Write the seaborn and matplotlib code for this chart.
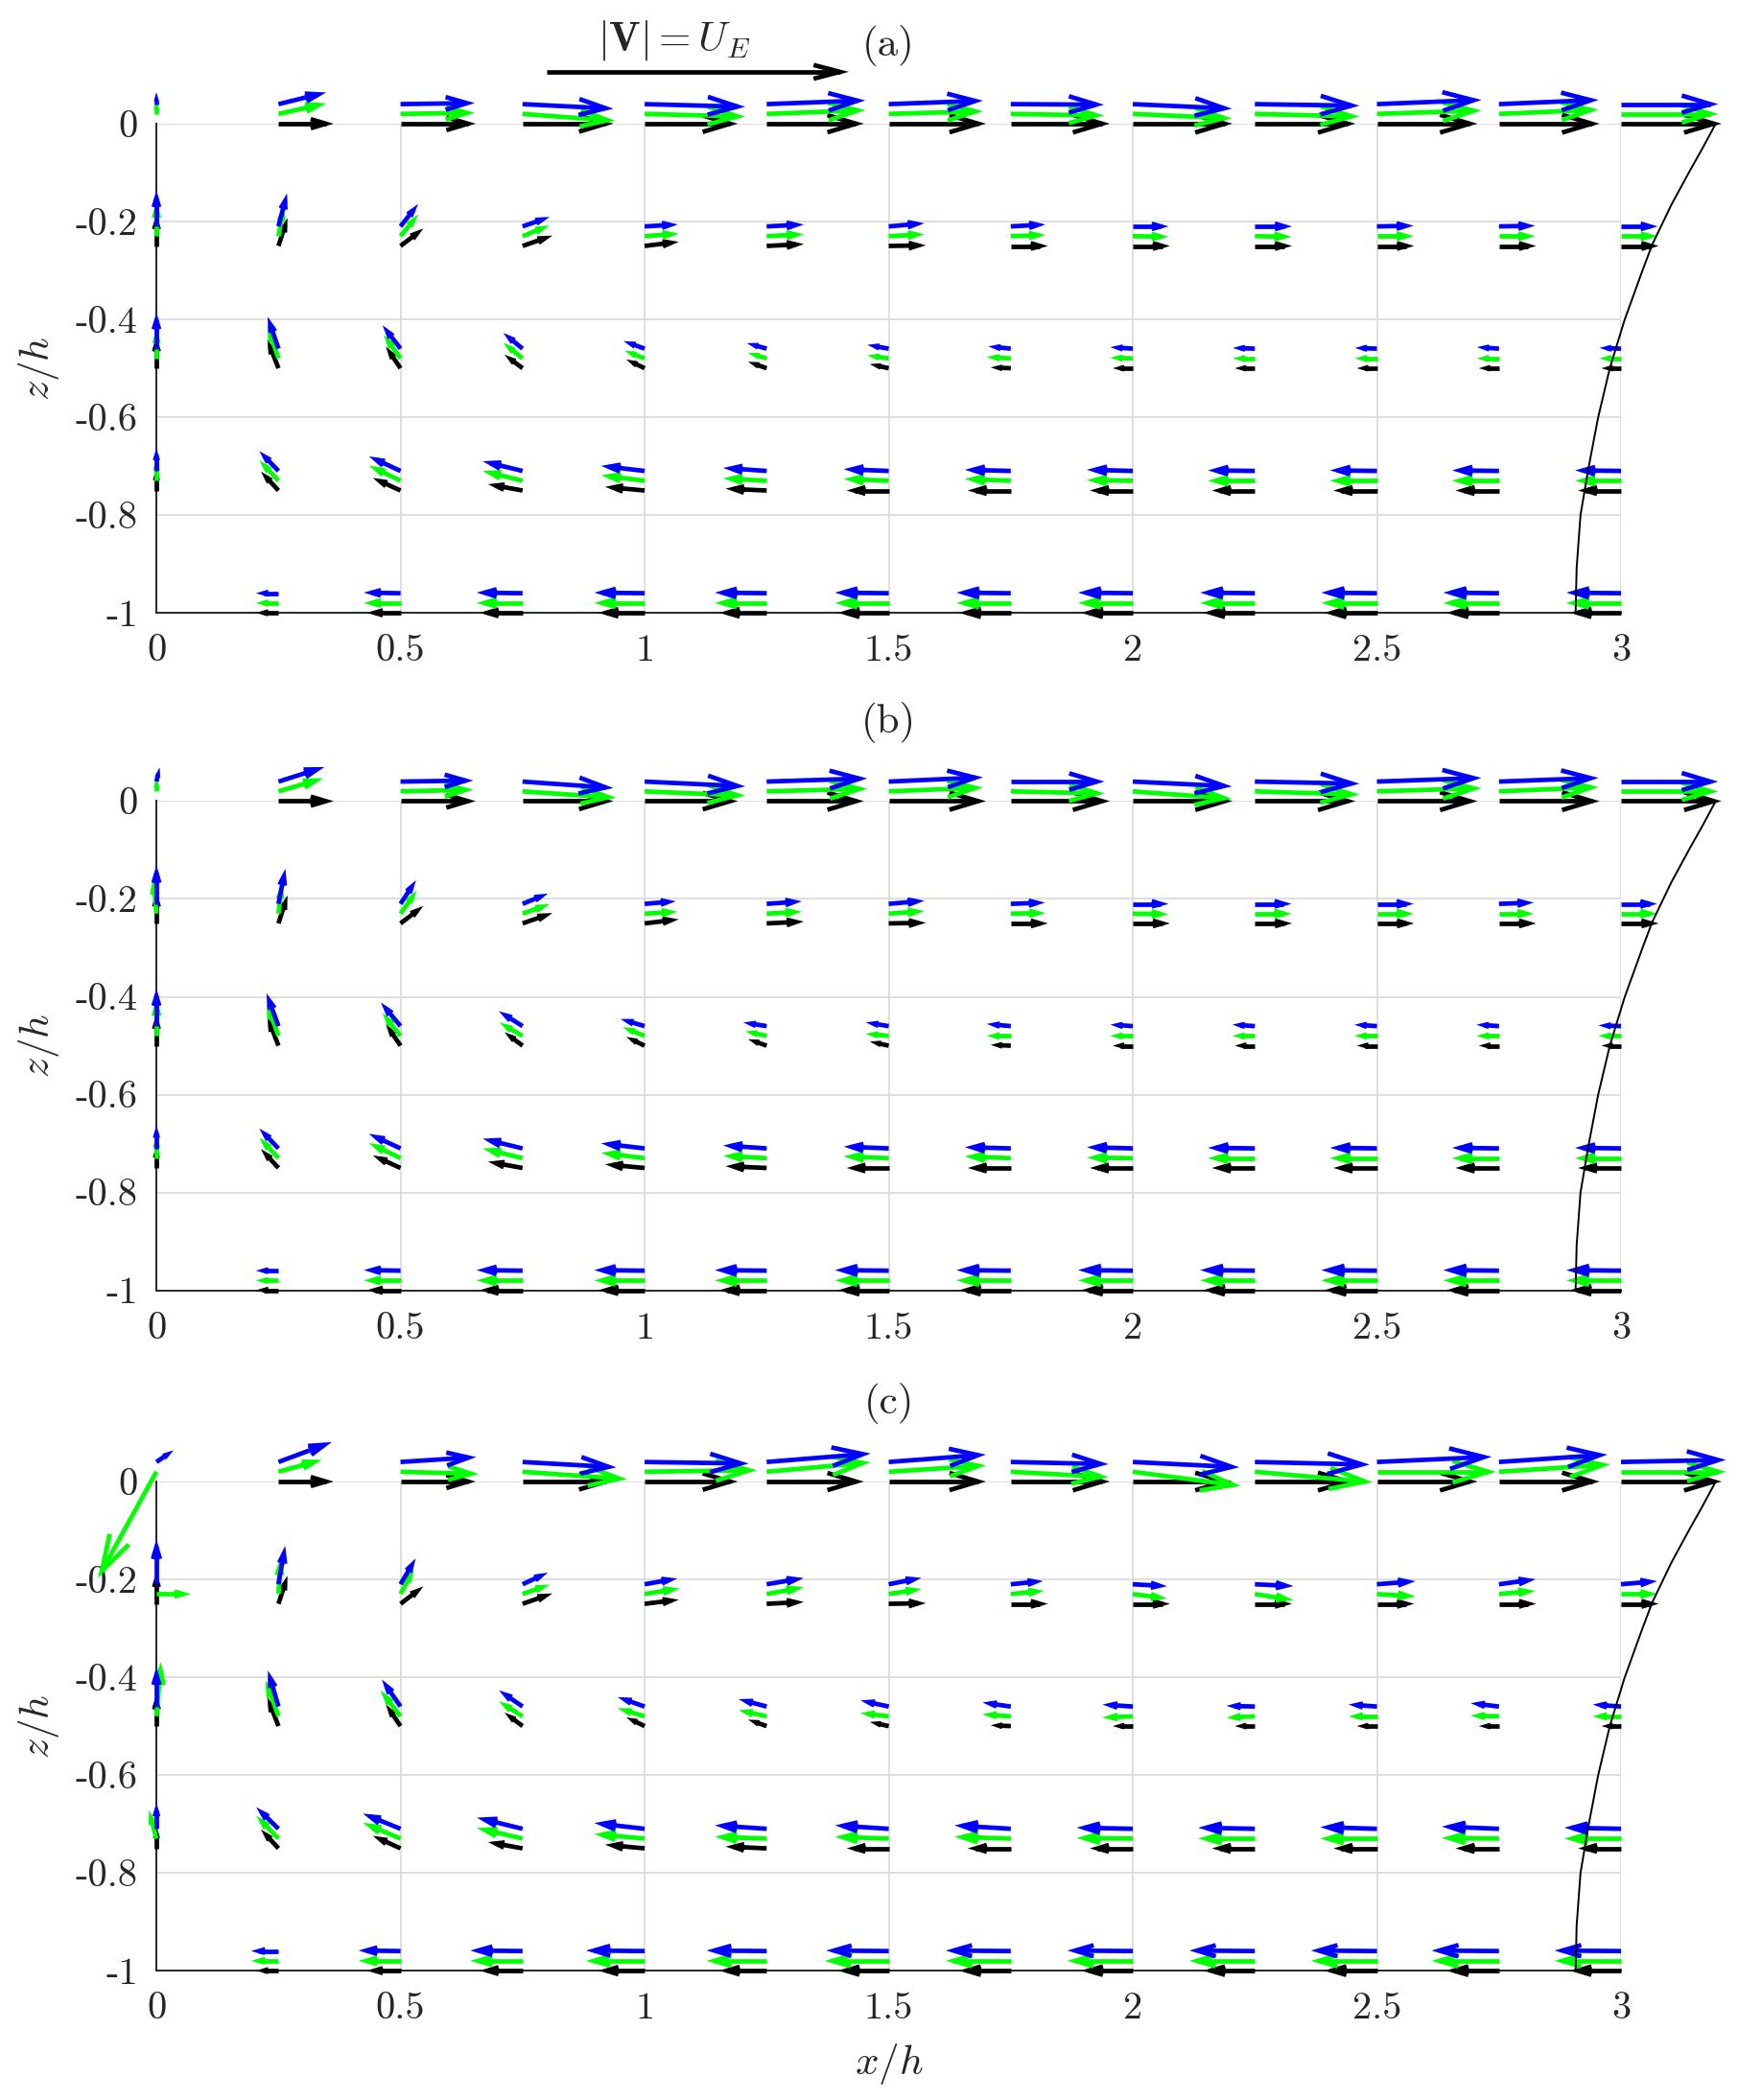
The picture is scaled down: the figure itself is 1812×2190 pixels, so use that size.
import numpy as np
import matplotlib
matplotlib.use("Agg")
import matplotlib.pyplot as plt
from matplotlib.collections import LineCollection
import seaborn as sns

# grid of arrow origins
X_POS = [0, 0.25, 0.5, 0.75, 1.0, 1.25, 1.5, 1.75, 2.0, 2.25, 2.5, 2.75, 3.0]
Z_LEVELS = [0, -0.25, -0.5, -0.75, -1.0]
GREEN_SHIFT = 0.02
BLUE_SHIFT = 0.04

X_TICKS = [0, 0.5, 1, 1.5, 2, 2.5, 3]
X_TICK_LABELS = ["0", "0.5", "1", "1.5", "2", "2.5", "3"]
Y_TICKS = [0, -0.2, -0.4, -0.6, -0.8, -1]
Y_TICK_LABELS = ["0", "-0.2", "-0.4", "-0.6", "-0.8", "-1"]

# arrow components as drawn, in h units (|V| = U_E is 0.6 long)
U_BLACK = [
    [0, 0.097, 0.138, 0.170, 0.175, 0.183, 0.183, 0.187, 0.188, 0.190, 0.190, 0.190, 0.190],
    [0, 0.0135, 0.034, 0.046, 0.054, 0.060, 0.060, 0.060, 0.060, 0.060, 0.060, 0.060, 0.061],
    [0, -0.017, -0.021, -0.024, -0.023, -0.023, -0.023, -0.025, -0.025, -0.025, -0.025, -0.025, -0.024],
    [0, -0.025, -0.042, -0.055, -0.065, -0.068, -0.070, -0.072, -0.072, -0.072, -0.073, -0.073, -0.072],
    [0, -0.030, -0.053, -0.072, -0.079, -0.081, -0.088, -0.090, -0.090, -0.090, -0.092, -0.092, -0.089],
]
W_BLACK = [
    [0, 0, 0, 0, 0, 0, 0, 0, 0, 0, 0, 0, 0],
    [0.050, 0.042, 0.026, 0.016, 0.0065, 0.003, 0.001, 0, 0, 0, 0, 0, 0],
    [0.050, 0.044, 0.031, 0.018, 0.011, 0.008, 0.005, 0.001, 0, 0, 0, 0, 0],
    [0.030, 0.027, 0.019, 0.010, 0.006, 0.003, 0, 0, 0, 0, 0, 0, 0],
    [0, 0, 0, 0, 0, 0, 0, 0, 0, 0, 0, 0, 0],
]

# panel (a)
U_GREEN_A = [
    [0, 0.082, 0.136, 0.174, 0.190, 0.186, 0.177, 0.175, 0.187, 0.198, 0.198, 0.188, 0.183],
    [0, 0.008, 0.026, 0.040, 0.054, 0.060, 0.057, 0.055, 0.057, 0.059, 0.059, 0.058, 0.059],
    [0, -0.017, -0.025, -0.027, -0.026, -0.023, -0.028, -0.033, -0.030, -0.029, -0.029, -0.029, -0.028],
    [0, -0.028, -0.050, -0.066, -0.073, -0.073, -0.076, -0.078, -0.078, -0.080, -0.080, -0.080, -0.078],
    [0, -0.030, -0.059, -0.078, -0.087, -0.090, -0.094, -0.095, -0.096, -0.096, -0.098, -0.098, -0.096],
]
W_GREEN_A = [
    [0.012, 0.018, 0.002, -0.013, -0.005, 0.007, 0.005, -0.003, -0.0085, -0.005, 0.0065, 0.008, 0],
    [0.055, 0.046, 0.032, 0.016, 0.004, 0.003, 0.003, 0.002, -0.001, -0.001, 0, 0, 0],
    [0.045, 0.050, 0.035, 0.022, 0.010, 0.007, 0.004, 0.002, 0.001, 0, 0, 0, 0],
    [0.030, 0.030, 0.024, 0.016, 0.009, 0.004, 0.003, 0.003, 0.001, 0, 0, 0, 0],
    [0, 0, 0, 0, 0, 0, 0, 0, 0, 0, 0, 0, 0],
]
U_BLUE_A = [
    [0, 0.082, 0.136, 0.170, 0.190, 0.186, 0.177, 0.175, 0.187, 0.198, 0.198, 0.188, 0.183],
    [0, 0.0135, 0.026, 0.040, 0.052, 0.060, 0.057, 0.055, 0.057, 0.060, 0.059, 0.058, 0.059],
    [0, -0.017, -0.027, -0.027, -0.028, -0.025, -0.028, -0.030, -0.030, -0.029, -0.029, -0.029, -0.028],
    [0, -0.028, -0.050, -0.066, -0.073, -0.073, -0.076, -0.078, -0.078, -0.080, -0.080, -0.080, -0.078],
    [0, -0.030, -0.059, -0.078, -0.087, -0.090, -0.094, -0.095, -0.096, -0.096, -0.098, -0.098, -0.096],
]
W_BLUE_A = [
    [0.008, 0.020, 0.002, -0.0085, -0.005, 0.007, 0.0065, -0.001, -0.0085, -0.003, 0.008, 0.008, 0],
    [0.058, 0.052, 0.033, 0.014, 0.003, 0.003, 0.005, 0.003, 0, 0, 0.001, 0.001, 0],
    [0.058, 0.050, 0.035, 0.022, 0.010, 0.007, 0.005, 0.003, 0.002, 0.001, 0.001, 0.002, 0.001],
    [0.031, 0.029, 0.023, 0.016, 0.0085, 0.005, 0.003, 0.002, 0.002, 0.001, 0.001, 0.001, 0.001],
    [0, 0, 0.001, 0.001, 0.001, 0.001, 0.001, 0.001, 0.001, 0.001, 0.001, 0.001, 0.001],
]

# panel (b): lower two rows match panel (a)
U_GREEN_B = [
    [0, 0.076, 0.133, 0.176, 0.190, 0.190, 0.177, 0.176, 0.187, 0.198, 0.198, 0.188, 0.183],
    [-0.005, 0.005, 0.024, 0.040, 0.051, 0.056, 0.057, 0.055, 0.057, 0.059, 0.059, 0.055, 0.058],
    [0, -0.019, -0.027, -0.033, -0.030, -0.028, -0.031, -0.033, -0.030, -0.030, -0.030, -0.030, -0.030],
    U_GREEN_A[3],
    U_GREEN_A[4],
]
W_GREEN_B = [
    [0.012, 0.022, 0.003, -0.012, -0.008, 0.005, 0.007, -0.004, -0.014, -0.006, 0.006, 0.008, 0],
    [0.058, 0.045, 0.034, 0.014, 0.003, 0.003, 0.004, 0.001, -0.001, 0, 0, 0, 0],
    [0.060, 0.052, 0.034, 0.019, 0.012, 0.006, 0.003, 0, 0, 0, 0, 0, 0],
    W_GREEN_A[3],
    W_GREEN_A[4],
]
U_BLUE_B = [
    [0.003, 0.079, 0.133, 0.170, 0.190, 0.190, 0.177, 0.176, 0.187, 0.198, 0.198, 0.188, 0.183],
    [0, 0.011, 0.023, 0.037, 0.048, 0.056, 0.057, 0.054, 0.057, 0.059, 0.059, 0.055, 0.058],
    [0, -0.019, -0.030, -0.035, -0.034, -0.032, -0.031, -0.033, -0.030, -0.030, -0.030, -0.030, -0.030],
    U_BLUE_A[3],
    U_BLUE_A[4],
]
W_BLUE_B = [
    [0.013, 0.025, 0.002, -0.012, -0.009, 0.006, 0.008, 0, -0.009, -0.004, 0.007, 0.007, 0],
    [0.063, 0.056, 0.035, 0.015, 0.004, 0.004, 0.005, 0.002, 0, 0, 0, 0.002, 0],
    [0.061, 0.052, 0.036, 0.022, 0.010, 0.005, 0.005, 0.003, 0.002, 0.002, 0.002, 0.002, 0.001],
    W_BLUE_A[3],
    W_BLUE_A[4],
]

# panel (c)
U_GREEN_C = [
    [-0.112, 0.073, 0.144, 0.198, 0.214, 0.197, 0.183, 0.184, 0.205, 0.225, 0.228, 0.212, 0.199],
    [0.054, 0.003, 0.020, 0.040, 0.056, 0.060, 0.051, 0.052, 0.054, 0.063, 0.063, 0.058, 0.058],
    [0.008, -0.021, -0.031, -0.035, -0.040, -0.042, -0.042, -0.042, -0.046, -0.042, -0.042, -0.042, -0.042],
    [-0.011, -0.034, -0.062, -0.078, -0.087, -0.090, -0.094, -0.099, -0.099, -0.100, -0.100, -0.101, -0.100],
    [0, -0.040, -0.070, -0.091, -0.104, -0.107, -0.115, -0.117, -0.118, -0.118, -0.119, -0.122, -0.120],
]
W_GREEN_C = [
    [-0.203, 0.020, -0.004, -0.014, 0.003, 0.018, 0.012, -0.010, -0.027, -0.020, 0, 0.014, 0],
    [0, 0.057, 0.037, 0.014, 0.009, 0.011, 0.008, 0.005, -0.007, -0.010, -0.004, 0.005, 0],
    [0.095, 0.058, 0.040, 0.022, 0.012, 0.009, 0.005, 0.003, -0.002, -0.002, 0, 0.001, 0],
    [0.042, 0.035, 0.026, 0.018, 0.008, 0.003, 0.003, 0.003, 0.001, 0, 0, 0.001, 0],
    [0, 0, 0, 0, 0, 0, 0, 0, 0, 0, 0, 0, 0],
]
U_BLUE_C = [
    [0.022, 0.094, 0.139, 0.176, 0.197, 0.197, 0.183, 0.184, 0.202, 0.219, 0.219, 0.206, 0.199],
    [0, 0.011, 0.023, 0.037, 0.051, 0.060, 0.051, 0.050, 0.054, 0.063, 0.063, 0.059, 0.058],
    [0, -0.017, -0.029, -0.035, -0.040, -0.042, -0.042, -0.042, -0.046, -0.042, -0.042, -0.042, -0.042],
    [0, -0.034, -0.062, -0.078, -0.087, -0.090, -0.094, -0.099, -0.099, -0.100, -0.100, -0.101, -0.100],
    [0, -0.040, -0.070, -0.091, -0.104, -0.107, -0.112, -0.117, -0.118, -0.118, -0.119, -0.122, -0.120],
]
W_BLUE_C = [
    [0.015, 0.035, 0.009, -0.010, -0.003, 0.016, 0.014, -0.004, -0.010, -0.005, 0.010, 0.014, 0.004],
    [0.076, 0.063, 0.039, 0.017, 0.009, 0.010, 0.010, 0.005, -0.003, -0.003, 0.005, 0.008, 0.005],
    [0.065, 0.058, 0.042, 0.024, 0.014, 0.011, 0.009, 0.006, 0.003, 0.001, 0.003, 0.005, 0.003],
    [0.037, 0.033, 0.025, 0.019, 0.010, 0.006, 0.006, 0.006, 0.002, 0.002, 0.003, 0.004, 0.002],
    [0, 0, 0.001, 0.001, 0.001, 0.001, 0.001, 0.001, 0.001, 0.001, 0.001, 0.001, 0.001],
]

# velocity profile drawn at x/h = 3
PROFILE_Z = [0, -0.05, -0.098, -0.166, -0.247, -0.30, -0.402, -0.50, -0.601, -0.706, -0.80, -0.909, -1.0]
PROFILE_X = [3.194, 3.167, 3.140, 3.103, 3.064, 3.044, 3.007, 2.977, 2.953, 2.933, 2.917, 2.909, 2.907]

# reference arrow |V| = U_E
KEY_X, KEY_Z, KEY_LEN = 0.8, 0.106, 0.6

PANELS = [
    ("(a)", U_GREEN_A, W_GREEN_A, U_BLUE_A, W_BLUE_A),
    ("(b)", U_GREEN_B, W_GREEN_B, U_BLUE_B, W_BLUE_B),
    ("(c)", U_GREEN_C, W_GREEN_C, U_BLUE_C, W_BLUE_C),
]


def one_arrow(bx, bz, du, dw, alpha=0.32, beta=0.3):
    # matlab-style quiver arrow: shaft plus an open chevron head
    tx, tz = bx + du, bz + dw
    a1 = (tx - alpha * (du + beta * dw), tz - alpha * (dw - beta * du))
    a2 = (tx - alpha * (du - beta * dw), tz - alpha * (dw + beta * du))
    return [[(bx, bz), (tx, tz)], [a1, (tx, tz), a2]]


def arrow_lines(u, w, shift):
    segs = []
    for i, z0 in enumerate(Z_LEVELS):
        for j, x0 in enumerate(X_POS):
            if abs(u[i][j]) + abs(w[i][j]) < 1e-9:
                continue
            segs += one_arrow(x0, z0 + shift, u[i][j], w[i][j])
    return segs


sns.set_style("white")
plt.rcParams["font.family"] = ["cmr10"]
plt.rcParams["mathtext.fontset"] = "cm"
plt.rcParams["axes.formatter.use_mathtext"] = True

fig = plt.figure(figsize=(18.12, 21.9), dpi=100)
boxes = [[0.0900, 0.7082, 0.8427, 0.2329],
         [0.0900, 0.3856, 0.8427, 0.2329],
         [0.0900, 0.0616, 0.8427, 0.2329]]

for k, (tag, ug, wg, ub, wb) in enumerate(PANELS):
    ax = fig.add_axes(boxes[k])
    ax.set_xticks(X_TICKS)
    ax.set_xticklabels(X_TICK_LABELS)
    ax.set_yticks(Y_TICKS)
    ax.set_yticklabels(Y_TICK_LABELS)
    ax.grid(True, color="#dcdcdc", linewidth=1.3)
    ax.set_axisbelow(True)
    for s in ["top", "right"]:
        ax.spines[s].set_visible(False)
    for s in ["left", "bottom"]:
        ax.spines[s].set_color("#262626")
        ax.spines[s].set_linewidth(1.4)
    ax.tick_params(direction="in", length=11, width=1.2, color="#262626",
                   labelsize=29, labelcolor="#262626")
    ax.tick_params(axis="x", pad=16)
    ax.tick_params(axis="y", pad=14)

    for segs, col, zo in [(arrow_lines(U_BLACK, W_BLACK, 0.0), "black", 3),
                          (arrow_lines(ug, wg, GREEN_SHIFT), "#00ff00", 4),
                          (arrow_lines(ub, wb, BLUE_SHIFT), "#0000ff", 5)]:
        lc = LineCollection(segs, colors=col, linewidths=3.4, zorder=zo,
                            capstyle="butt", joinstyle="miter")
        lc.set_clip_on(False)
        ax.add_collection(lc)

    sns.lineplot(x=PROFILE_X, y=PROFILE_Z, sort=False, estimator=None,
                 color="black", linewidth=1.4, ax=ax)
    ax.lines[-1].set_clip_on(False)
    ax.lines[-1].set_zorder(6)
    ax.set_xlim(0, 3)
    ax.set_ylim(-1, 0)

    ax.text(1.5, 0.16, tag, ha="center", va="center", fontsize=31,
            color="#262626")
    ax.set_ylabel(r"$z/h$", fontsize=31, color="#262626")
    ax.yaxis.set_label_coords(-0.065, 0.5)

    if k == 0:
        key = one_arrow(KEY_X, KEY_Z, KEY_LEN, 0.0, alpha=0.09, beta=0.26)
        lc = LineCollection(key, colors="black", linewidths=3.4,
                            capstyle="butt", joinstyle="miter")
        lc.set_clip_on(False)
        ax.add_collection(lc)
        ax.text(1.06, 0.17, r"$|\mathbf{V}| = U_E$", ha="center", va="center",
                fontsize=31)
    if k == 2:
        ax.set_xlabel(r"$x/h$", fontsize=31, color="#262626")
        ax.xaxis.set_label_coords(0.5, -0.145)

fig.savefig("out.png", dpi=100)
